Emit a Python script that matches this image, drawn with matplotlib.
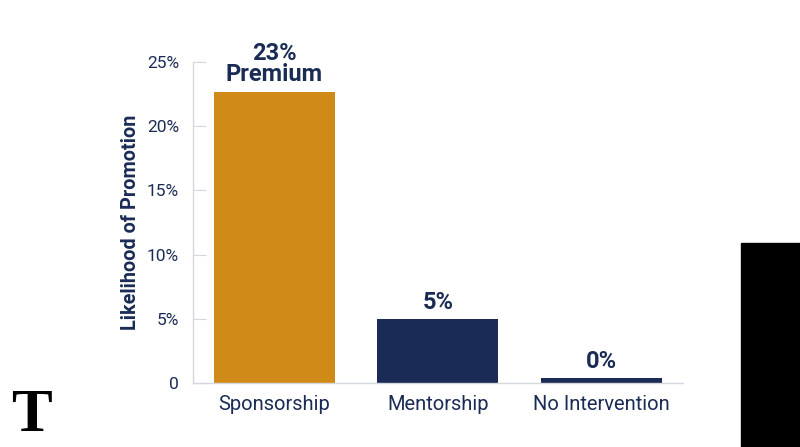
import matplotlib.pyplot as plt
from matplotlib.patches import Rectangle

plt.rcParams['font.family'] = ['Roboto', 'DejaVu Sans']

NAVY = '#1A2C55'
GOLD = '#CF8A17'
GREY = '#D4D7DE'

categories = ['Sponsorship', 'Mentorship', 'No Intervention']
values = [22.7, 5.0, 0.4]
bar_labels = ['23%\nPremium', '5%', '0%']
bar_colors = [GOLD, NAVY, NAVY]
yticks = [0, 5, 10, 15, 20, 25]
ytick_labels = ['0', '5%', '10%', '15%', '20%', '25%']

fig = plt.figure(figsize=(8, 4.47), dpi=100)
ax = fig.add_axes([0.241, 0.1432, 0.6125, 0.7181])

x = range(len(categories))
bars = ax.bar(x, values, width=0.74, color=bar_colors)

for b, lab in zip(bars, bar_labels):
    ax.text(b.get_x() + b.get_width() / 2, b.get_height() + 0.4, lab,
            ha='center', va='bottom', fontsize=17, fontweight='bold',
            color=NAVY, linespacing=0.92)

ax.set_xlim(-0.5, 2.5)
ax.set_ylim(0, 25)
ax.set_xticks(list(x))
ax.set_xticklabels(categories, fontsize=14.5, color=NAVY)
ax.set_yticks(yticks)
ax.set_yticklabels(ytick_labels, fontsize=12.5, color=NAVY)
ax.tick_params(axis='x', length=0, pad=9)
ax.tick_params(axis='y', direction='in', length=9, color=GREY, pad=10)
ax.set_ylabel('Likelihood of Promotion', fontsize=14.3, fontweight='bold',
              color=NAVY, labelpad=5)

for s in ['top', 'right']:
    ax.spines[s].set_visible(False)
for s in ['left', 'bottom']:
    ax.spines[s].set_color(GREY)
    ax.spines[s].set_linewidth(1.0)

fig.text(0.039, 0.07, 'T', fontsize=44, fontweight='bold', family='Liberation Serif',
         color='black', ha='center', va='center')
fig.patches.append(Rectangle((741 / 800, 0), 59 / 800, 204 / 447,
                             transform=fig.transFigure, color='black'))

plt.savefig('out.png', dpi=100)
